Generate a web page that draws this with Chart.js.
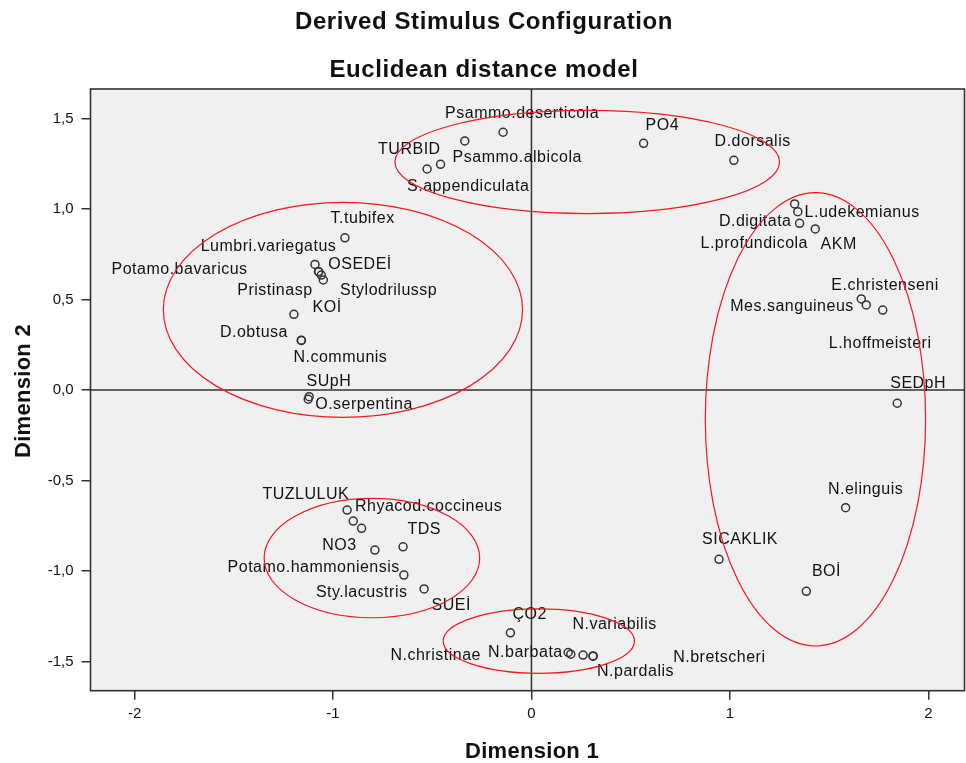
<!DOCTYPE html>
<html>
<head>
<meta charset="utf-8">
<script src="https://cdn.jsdelivr.net/npm/chart.js@4.4.1/dist/chart.umd.min.js"></script>
<style>
  html, body { margin: 0; padding: 0; background: #ffffff; overflow: hidden; }
  canvas { display: block; }
</style>
</head>
<body>
<canvas id="chart" width="966" height="763"></canvas>
<script>
// Stimulus names (species and environmental variables)
const stimuli = [
  'Psammo.deserticola', 'TURBID', 'Psammo.albicola', 'S.appendiculata', 'PO4', 'D.dorsalis',
  'T.tubifex', 'Lumbri.variegatus', 'Potamo.bavaricus', 'OSEDEİ', 'Pristinasp', 'Stylodrilussp',
  'KOİ', 'D.obtusa', 'N.communis', 'SUpH', 'O.serpentina',
  'L.udekemianus', 'L.profundicola', 'D.digitata', 'AKM', 'E.christenseni', 'Mes.sanguineus',
  'L.hoffmeisteri', 'SEDpH', 'N.elinguis', 'SICAKLIK', 'BOİ',
  'TUZLULUK', 'Rhyacod.coccineus', 'Sty.lacustris', 'NO3', 'TDS', 'Potamo.hammoniensis', 'SUEİ',
  'ÇO2', 'N.barbata', 'N.christinae', 'N.variabilis', 'N.pardalis', 'N.bretscheri'
];

// Dimension 1 coordinates
const dimension1 = [
  -0.143, -0.526, -0.458, -0.336, 0.565, 1.020,
  -0.940, -1.091, -1.073, -1.072, -1.059, -1.049,
  -1.197, -1.160, -1.159, -1.120, -1.125,
  1.326, 1.342, 1.351, 1.430, 1.662, 1.687,
  1.770, 1.843, 1.583, 0.945, 1.385,
  -0.929, -0.898, -0.856, -0.789, -0.647, -0.643, -0.541,
  -0.106, 0.185, 0.198, 0.260, 0.310, 0.311
];

// Dimension 2 coordinates
const dimension2 = [
  1.424, 1.221, 1.247, 1.376, 1.363, 1.269,
  0.841, 0.694, 0.654, 0.653, 0.635, 0.608,
  0.418, 0.275, 0.274, -0.037, -0.051,
  1.028, 0.985, 0.921, 0.890, 0.503, 0.470,
  0.442, -0.073, -0.650, -0.935, -1.112,
  -0.663, -0.724, -0.764, -0.884, -0.866, -1.022, -1.099,
  -1.341, -1.450, -1.459, -1.464, -1.470, -1.469
];

// Axis ticks
const xTickValues = [-2, -1, 0, 1, 2];
const xTickLabels = ['-2', '-1', '0', '1', '2'];
const yTickValues = [-1.5, -1, -0.5, 0, 0.5, 1, 1.5];
const yTickLabels = ['-1,5', '-1,0', '-0,5', '0,0', '0,5', '1,0', '1,5'];

// Group outlines (ellipses in dimension units)
const groupCenterX = [0.281, -0.950, 1.431, -0.804, 0.037];
const groupCenterY = [1.260, 0.443, -0.162, -0.928, -1.387];
const groupSpanX   = [0.969, 0.905, 0.555, 0.543, 0.482];
const groupSpanY   = [0.285, 0.594, 1.252, 0.330, 0.178];

// Label placement relative to each marker, in pixels (left edge, vertical middle)
const labelOffsets = [
  [-58, -19], [-49, -19.7], [12, -6.6], [-57.7, 45.7], [2, -17.6], [-19.3, -18.6],
  [-14.3, -19.4], [-114.3, -17.6], [-207, -1.7], [9.6, -7.4], [-84, 15.7], [16.7, 10.7],
  [18.7, -6.6], [-81.3, -8], [-8, 17.4], [-2.6, -15], [7, 5],
  [10, 8.7], [-97.3, 32.3], [-80.7, -1.6], [5.3, 16], [-30, -13.3], [-136, 1.7],
  [-54, 33.3], [-7, -20], [-17.7, -18.4], [-17, -19.3], [5.6, -19.6],
  [-84.6, -15], [1.7, -14.3], [-45.7, 64], [-52.7, -4], [4.4, -17.4], [-176.3, -7.3], [7.4, 17],
  [2, -17.7], [-80.2, 0.2], [-180.3, 1], [-10.6, -30], [4, 15.7], [80, 1.7]
];

const FONT = '"Liberation Sans", Arial, Helvetica, sans-serif';
const INK = '#333333';

// The canvas is a few pixels wider than the window so the plot frame reaches the right edge.
const canvas = document.getElementById('chart');
canvas.width = 970;

const decorations = {
  id: 'decorations',
  beforeDraw(chart) {
    const { ctx, chartArea: a } = chart;
    ctx.save();
    ctx.fillStyle = '#ffffff';
    ctx.fillRect(0, 0, chart.width, chart.height);
    ctx.fillStyle = '#f0f0f0';
    ctx.fillRect(a.left, a.top, a.right - a.left, a.bottom - a.top);
    ctx.restore();
  },
  beforeDatasetsDraw(chart) {
    const { ctx, chartArea: a, scales: { x, y } } = chart;
    const x0 = x.getPixelForValue(0);
    const y0 = y.getPixelForValue(0);
    ctx.save();
    ctx.strokeStyle = INK;
    ctx.lineWidth = 1.5;
    ctx.beginPath();
    ctx.moveTo(a.left, y0); ctx.lineTo(a.right, y0);
    ctx.moveTo(x0, a.top); ctx.lineTo(x0, a.bottom);
    ctx.stroke();
    ctx.restore();
  },
  afterDatasetsDraw(chart) {
    const { ctx, chartArea: a, scales: { x, y } } = chart;
    const meta = chart.getDatasetMeta(0);

    // stimulus labels
    ctx.save();
    ctx.font = '16px ' + FONT;
    if ('letterSpacing' in ctx) ctx.letterSpacing = '0.5px';
    ctx.fillStyle = '#111111';
    ctx.textAlign = 'left';
    ctx.textBaseline = 'middle';
    meta.data.forEach((pt, i) => {
      const [dx, dy] = labelOffsets[i];
      ctx.fillText(stimuli[i], pt.x + dx, pt.y + dy);
    });
    ctx.restore();

    // plot frame
    ctx.save();
    ctx.strokeStyle = INK;
    ctx.lineWidth = 1.6;
    ctx.strokeRect(a.left, a.top, a.right - a.left, a.bottom - a.top);
    ctx.restore();

    // group ellipses
    ctx.save();
    ctx.strokeStyle = 'rgb(245,25,30)';
    ctx.lineWidth = 1.2;
    groupCenterX.forEach((cxv, i) => {
      const cx = x.getPixelForValue(cxv);
      const cy = y.getPixelForValue(groupCenterY[i]);
      const rx = Math.abs(x.getPixelForValue(cxv + groupSpanX[i]) - cx);
      const ry = Math.abs(y.getPixelForValue(groupCenterY[i] + groupSpanY[i]) - cy);
      ctx.beginPath();
      ctx.ellipse(cx, cy, rx, ry, 0, 0, Math.PI * 2);
      ctx.stroke();
    });
    ctx.restore();
  },
  afterDraw(chart) {
    const { ctx } = chart;
    ctx.save();
    ctx.fillStyle = '#111111';
    ctx.textAlign = 'center';
    ctx.textBaseline = 'alphabetic';
    ctx.font = 'bold 24px ' + FONT;
    if ('letterSpacing' in ctx) ctx.letterSpacing = '0.6px';
    ctx.fillText('Derived Stimulus Configuration', 484, 29);
    ctx.fillText('Euclidean distance model', 484, 77);

    ctx.font = 'bold 22px ' + FONT;
    if ('letterSpacing' in ctx) ctx.letterSpacing = '0.3px';
    ctx.fillText('Dimension 1', 532, 758);
    ctx.translate(30, 391);
    ctx.rotate(-Math.PI / 2);
    ctx.fillText('Dimension 2', 0, 0);
    ctx.restore();
  }
};

new Chart(canvas, {
  type: 'scatter',
  data: {
    datasets: [{
      data: stimuli.map((name, i) => ({ x: dimension1[i], y: dimension2[i] })),
      pointStyle: 'circle',
      pointRadius: 4,
      pointHoverRadius: 4,
      pointBorderWidth: 1.5,
      pointBorderColor: INK,
      pointBackgroundColor: 'rgba(0,0,0,0)'
    }]
  },
  options: {
    responsive: false,
    animation: false,
    devicePixelRatio: 1,
    layout: { padding: { top: 89, right: 1, left: 0, bottom: 0 } },
    plugins: { legend: { display: false }, tooltip: { enabled: false }, title: { display: false } },
    events: [],
    scales: {
      x: {
        type: 'linear',
        min: -2.222,
        max: 2.182,
        afterBuildTicks: (s) => { s.ticks = xTickValues.map(v => ({ value: v })); },
        afterFit: (s) => { s.height = 72.3; s.paddingLeft = 0; s.paddingRight = 0; },
        grid: { drawOnChartArea: false, drawTicks: true, tickLength: 9, tickColor: INK, lineWidth: 1.5 },
        border: { display: false },
        ticks: {
          autoSkip: false, maxRotation: 0, padding: 5, color: '#111111',
          font: { family: FONT, size: 15 },
          callback: (v) => xTickLabels[xTickValues.indexOf(v)]
        }
      },
      y: {
        type: 'linear',
        min: -1.661,
        max: 1.663,
        afterBuildTicks: (s) => { s.ticks = yTickValues.map(v => ({ value: v })); },
        afterFit: (s) => { s.width = 90.5; s.paddingTop = 0; s.paddingBottom = 0; },
        grid: { drawOnChartArea: false, drawTicks: true, tickLength: 9, tickColor: INK, lineWidth: 1.5 },
        border: { display: false },
        ticks: {
          autoSkip: false, padding: 8, color: '#111111',
          font: { family: FONT, size: 15 },
          callback: (v) => yTickLabels[yTickValues.indexOf(v)]
        }
      }
    }
  },
  plugins: [decorations]
});
</script>
</body>
</html>
